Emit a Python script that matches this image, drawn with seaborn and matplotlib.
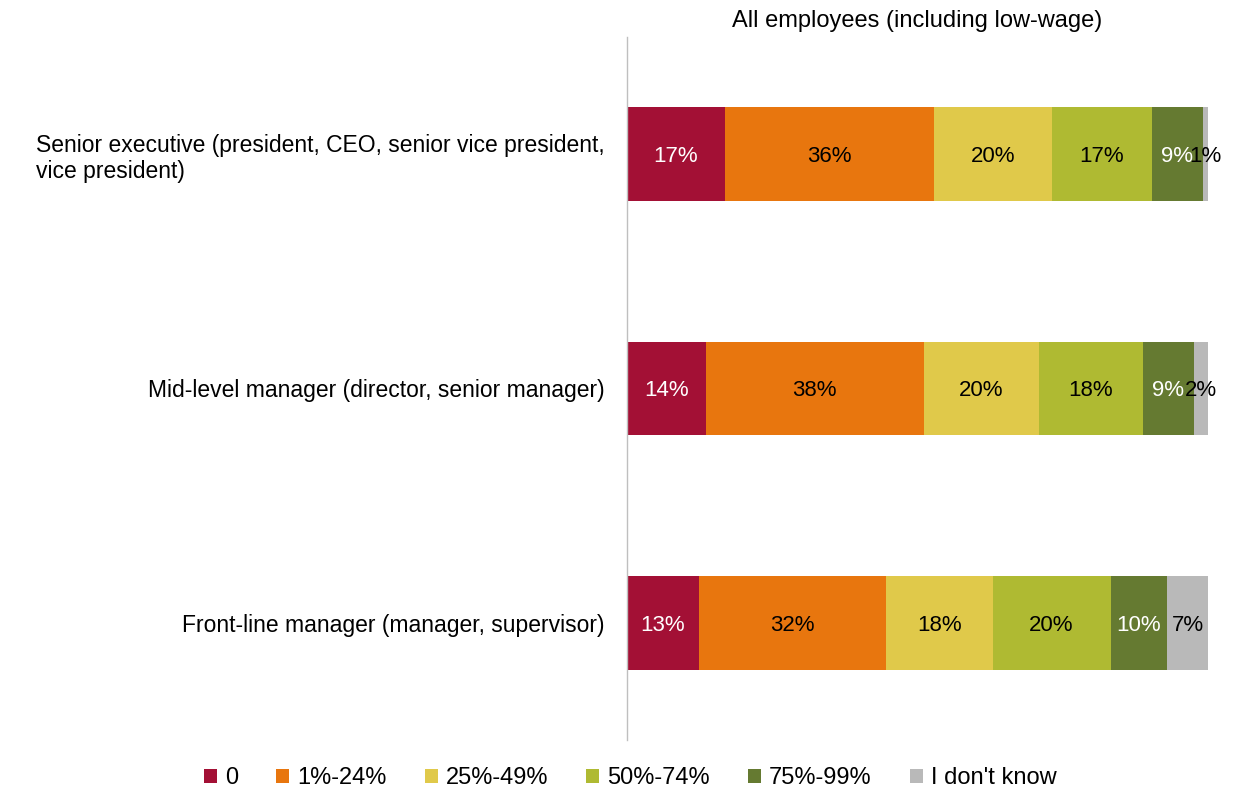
import matplotlib
matplotlib.use("Agg")
import matplotlib.pyplot as plt
import seaborn as sns
import numpy as np
import pandas as pd

categories = [
    "Senior executive (president, CEO, senior vice president,\nvice president)",
    "Mid-level manager (director, senior manager)",
    "Front-line manager (manager, supervisor)",
]
series = ["0", "1%-24%", "25%-49%", "50%-74%", "75%-99%", "I don't know"]
values = {
    "0":            [16.9, 13.6, 12.4],
    "1%-24%":       [36.0, 37.5, 32.2],
    "25%-49%":      [20.3, 19.8, 18.4],
    "50%-74%":      [17.2, 17.9, 20.3],
    "75%-99%":      [8.8, 8.8, 9.8],
    "I don't know": [0.9, 2.4, 6.9],
}
labels = {
    "0":            ["17%", "14%", "13%"],
    "1%-24%":       ["36%", "38%", "32%"],
    "25%-49%":      ["20%", "20%", "18%"],
    "50%-74%":      ["17%", "18%", "20%"],
    "75%-99%":      ["9%", "9%", "10%"],
    "I don't know": ["1%", "2%", "7%"],
}
colors = ["#A31035", "#E8760E", "#E0C94A", "#AFBA32", "#657A31", "#B9B9B9"]
text_colors = ["white", "black", "black", "black", "white", "black"]
title = "All employees (including low-wage)"

sns.set_theme(style="white")
plt.rcParams["font.family"] = ["Liberation Sans", "DejaVu Sans"]

fig = plt.figure(figsize=(12.36, 8.01), dpi=100)
ax = fig.add_axes([0.507, 0.076, 0.470, 0.878])

df = pd.DataFrame(values, index=categories)
cum = df.cumsum(axis=1)

# draw cumulative totals from largest to smallest so each segment shows
for i in range(len(series) - 1, -1, -1):
    s = series[i]
    d = pd.DataFrame({"cat": categories, "val": cum[s].values})
    sns.barplot(data=d, y="cat", x="val", orient="h", color=colors[i],
                width=0.4, saturation=1, ax=ax, linewidth=0, label=s)

for i, s in enumerate(series):
    lefts = cum[s].values - df[s].values
    for j in range(len(categories)):
        ax.text(lefts[j] + df[s].values[j] / 2, j + 0.01, labels[s][j],
                ha="center", va="center", color=text_colors[i], fontsize=16)

ax.set_xlim(0, 100)
ax.set_ylim(2.5, -0.5)
ax.set_xlabel("")
ax.set_ylabel("")
ax.set_xticks([])
ax.tick_params(axis="y", length=0, pad=16, labelsize=16.5, labelcolor="#000000")
for t in ax.get_yticklabels():
    t.set_multialignment("left")
for sp in ["top", "right", "bottom"]:
    ax.spines[sp].set_visible(False)
ax.spines["left"].set_color("#BFBFBF")
ax.spines["left"].set_linewidth(1)

ax.set_title(title, fontsize=17, pad=7, color="black")

handles, lbls = ax.get_legend_handles_labels()
order = [lbls.index(s) for s in series]
if ax.legend_ is not None:
    ax.legend_.remove()
fig.legend([handles[k] for k in order], series, loc="lower center",
           bbox_to_anchor=(0.51, -0.012), ncol=6, frameon=False, fontsize=17,
           labelcolor="black",
           handlelength=0.55, handleheight=0.55, handletextpad=0.35, columnspacing=1.6)

fig.savefig("out.png", dpi=100, facecolor="white")
